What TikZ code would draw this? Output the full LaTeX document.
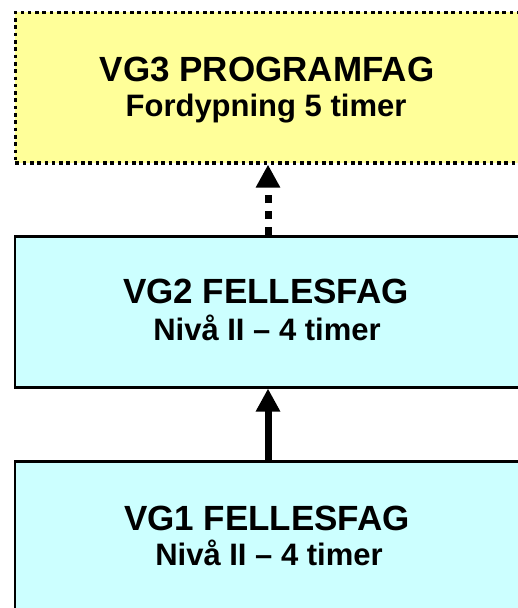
\documentclass[tikz,border=0pt]{standalone}
\usepackage{fontspec}
\setmainfont{Liberation Sans}
\usetikzlibrary{arrows.meta}
\definecolor{boxyellow}{HTML}{FFFF99}
\definecolor{boxcyan}{HTML}{CCFFFF}
\tikzset{
  progbox/.style={draw=black, fill=boxyellow, line width=3.6pt, dash pattern=on 3.6pt off 3.7pt, anchor=north west, inner sep=0pt},
  fagbox/.style={draw=black, fill=boxcyan, line width=2.5pt, anchor=north west, inner sep=0pt},
  titletext/.style={anchor=base, inner sep=0pt, font=\fontsize{35}{35}\selectfont\bfseries},
  subtext/.style={anchor=base, inner sep=0pt, font=\fontsize{31}{31}\selectfont\bfseries},
  solidarrow/.style={line width=7pt, -{Triangle[width=23pt,length=23pt]}},
  dotarrow/.style={line width=7pt, dash pattern=on 8pt off 8pt, -{Triangle[width=23pt,length=23pt]}}
}
\begin{document}
\begin{tikzpicture}[x=1pt,y=-1pt]
\useasboundingbox (0,0) rectangle (518,608);
\clip (0,0) rectangle (518,608);
\node[progbox, minimum width=546pt, minimum height=150.5pt] (b3) at (13.5,10.5) {};
\node[fagbox, minimum width=546pt, minimum height=151pt] (b2) at (13.5,235) {};
\node[fagbox, minimum width=546pt, minimum height=200pt] (b1) at (13.5,460) {};
\node[titletext] (t3a) at (267,81) {VG3 PROGRAMFAG};
\node[subtext] (t3b) at (266,116) {Fordypning 5 timer};
\node[titletext] (t2a) at (266,303) {VG2 FELLESFAG};
\node[subtext] (t2b) at (267,340) {Nivå II – 4 timer};
\node[titletext] (t1a) at (267,530) {VG1 FELLESFAG};
\node[subtext] (t1b) at (269,565) {Nivå II – 4 timer};
\coordinate (ax) at (268,0);
\draw[dotarrow] (b2.north -| ax) -- (b3.south -| ax);
\draw[solidarrow] (b1.north -| ax) -- (b2.south -| ax);
\end{tikzpicture}
\end{document}
